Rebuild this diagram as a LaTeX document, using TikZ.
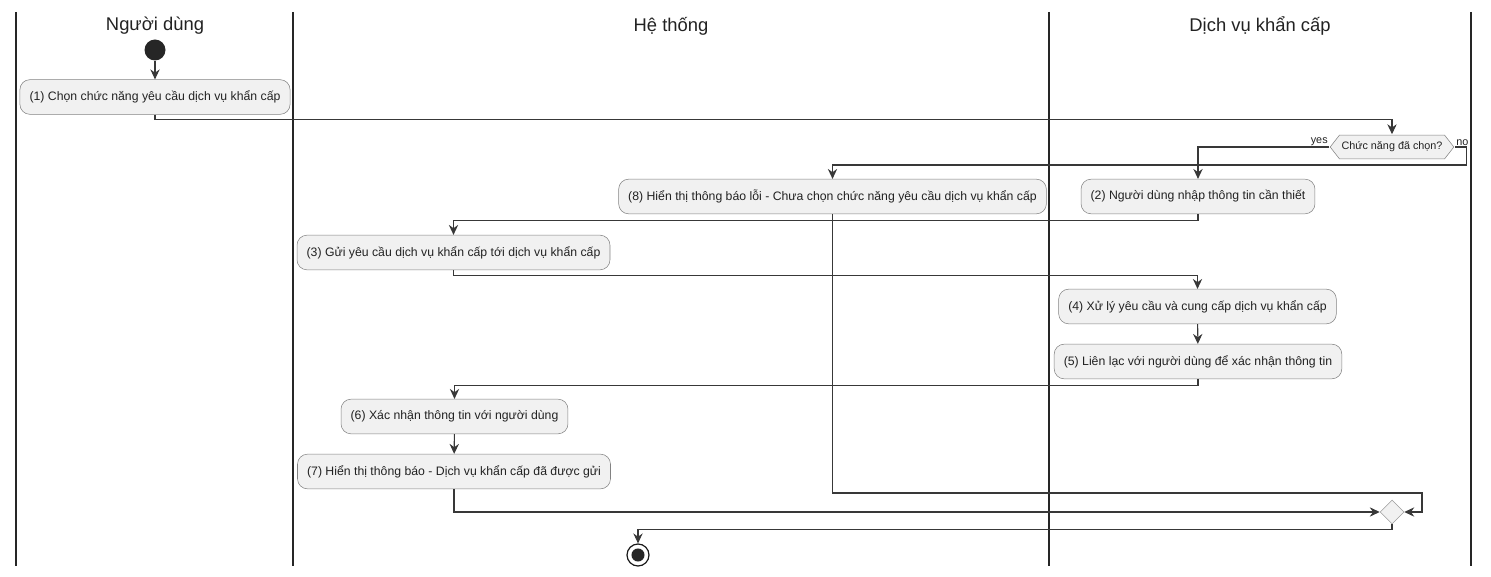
\documentclass[tikz,border=0pt]{standalone}
\usepackage{fontspec}
\setmainfont{Liberation Sans}
\usepackage{tikz}
\usetikzlibrary{arrows.meta, shapes.geometric}
\usepackage{xcolor}
\definecolor{boxfill}{RGB}{241,241,241}
\definecolor{boxline}{RGB}{130,130,130}
\definecolor{flowline}{RGB}{56,56,56}
\definecolor{txt}{RGB}{34,34,34}

\begin{document}
\begin{tikzpicture}[x=0.75pt,y=0.75pt,yscale=-1,xscale=1,
  lane/.style={draw=black!85, line width=1.4pt},
  header/.style={text=txt, inner sep=0.75pt, font=\fontsize{13.8}{16}\selectfont},
  action/.style={draw=boxline, fill=boxfill, rounded corners=7.5pt, minimum height=26pt, inner xsep=7.2pt, text=txt, font=\fontsize{9.2}{11}\selectfont},
  decision/.style={rectangle, minimum width=93.75pt, minimum height=18.75pt, inner sep=0pt, text=txt, font=\fontsize{8.1}{10}\selectfont,
    path picture={\draw[draw=boxline, fill=boxfill]
      ([xshift=0.5pt]path picture bounding box.west) -- ([xshift=7.5pt,yshift=-0.4pt]path picture bounding box.north west)
      -- ([xshift=-7.5pt,yshift=-0.4pt]path picture bounding box.north east) -- ([xshift=-0.5pt]path picture bounding box.east)
      -- ([xshift=-7.5pt,yshift=0.4pt]path picture bounding box.south east) -- ([xshift=7.5pt,yshift=0.4pt]path picture bounding box.south west) -- cycle;}},
  merge/.style={diamond, draw=boxline!80, fill=boxfill, minimum size=18pt, inner sep=0pt},
  startnode/.style={circle, fill=black!85, minimum size=15.75pt, inner sep=0pt},
  endnode/.style={circle, draw=black!90, fill=white, line width=0.9pt, minimum size=16.5pt, inner sep=0pt, path picture={\fill[black!85] (path picture bounding box.center) circle (4.9pt);}},
  lbl/.style={text=txt, inner sep=1pt, font=\fontsize{8.1}{10}\selectfont},
  flow/.style={draw=flowline, line width=0.8pt, -{Stealth[length=7.5pt,width=7pt,inset=2.5pt]}}]
\useasboundingbox (0,0) rectangle (1491,577);

%Swimlanes
\draw [lane] (16,12) -- (16,566) ;
\draw [lane] (293,12) -- (293,566) ;
\draw [lane] (1049,12) -- (1049,566) ;
\draw [lane] (1471,12) -- (1471,566) ;

% Text Node
\node [header] (hdrUser) at (155,26) {Người dùng};
\node [header] (hdrSys) at (671,26) {Hệ thống};
\node [header] (hdrEmer) at (1260,26) {Dịch vụ khẩn cấp};

%Shape: Start
\node [startnode] (start) at (155,50) {};

%Shape: Rounded Rectangle
\node [action] (n1) at (155,97) {(1) Chọn chức năng yêu cầu dịch vụ khẩn cấp};
%Shape: Decision
\node [decision] (dec) at (1392,147) {Chức năng đã chọn?};
\node [lbl, anchor=south east] (yesLbl) at (dec.west) {yes};
\node [lbl, anchor=south west] (noLbl) at (dec.east) {no};
%Shape: Rounded Rectangle
\node [action] (n8) at (832.5,196.5) {(8) Hiển thị thông báo lỗi - Chưa chọn chức năng yêu cầu dịch vụ khẩn cấp};
\node [action] (n2) at (1198,196.5) {(2) Người dùng nhập thông tin cần thiết};
\node [action] (n3) at (453.5,252.5) {(3) Gửi yêu cầu dịch vụ khẩn cấp tới dịch vụ khẩn cấp};
\node [action] (n4) at (1197.5,306.5) {(4) Xử lý yêu cầu và cung cấp dịch vụ khẩn cấp};
\node [action] (n5) at (1198,361.5) {(5) Liên lạc với người dùng để xác nhận thông tin};
\node [action] (n6) at (454.5,416.5) {(6) Xác nhận thông tin với người dùng};
\node [action] (n7) at (454,471.5) {(7) Hiển thị thông báo - Dịch vụ khẩn cấp đã được gửi};
%Shape: Merge
\node [merge] (mrg) at (1392,512) {};
%Shape: End
\node [endnode] (end) at (638,555) {};
\coordinate (loop8) at (1422,493);

%Straight Lines
\draw [flow] (start) -- (n1) ;
\draw [flow] (n1.south) -- ++(0,5) -| (dec.north) ;
\draw [flow] (dec.west) -| (n2.north) ;
\draw [flow] (dec.east) -- ++(12,0) -- ++(0,18) -| (n8.north) ;
\draw [flow] (n2.south) -- ++(0,6) -| (n3.north) ;
\draw [flow] (n3.south) -- ++(0,5) -| (n4.north) ;
\draw [flow] (n4) -- (n5) ;
\draw [flow] (n5.south) -- ++(0,6) -| (n6.north) ;
\draw [flow] (n6) -- (n7) ;
\draw [flow] (n7.south) |- (mrg.west) ;
\draw [flow] (n8.south) |- (loop8) |- (mrg.east) ;
\draw [flow] (mrg.south) -- ++(0,5) -| (end.north) ;

\end{tikzpicture}
\end{document}
